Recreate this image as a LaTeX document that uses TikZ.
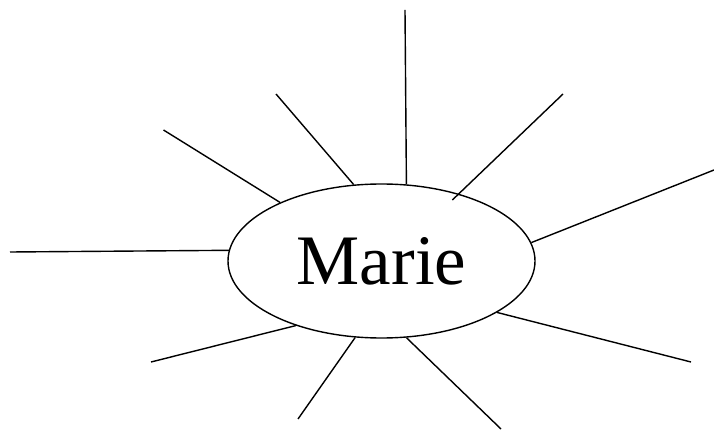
\documentclass[tikz,border=0pt]{standalone}
\usepackage{fontspec}
\setmainfont{Liberation Serif}
\usetikzlibrary{shapes.geometric,calc}
\tikzset{
  hub/.style={ellipse,draw,line width=1.4pt,minimum width=307pt,minimum height=154pt,inner sep=0pt,font=\fontsize{71}{80}\selectfont},
  ray/.style={line width=1.4pt}
}
\begin{document}
\begin{tikzpicture}[x=1pt,y=1pt]
\useasboundingbox (0,0) rectangle (714,431);
\node[hub] (m) at (381.5,170) {Marie};
\coordinate (o1) at (405,421);
\coordinate (o2) at (276,337);
\coordinate (o3) at (163.5,301);
\coordinate (o4) at (10,179);
\coordinate (o5) at (151,69);
\coordinate (o6) at (298,12);
\coordinate (o7) at (501,2);
\coordinate (o8) at (691,69);
\coordinate (o9) at (714,261);
\coordinate (o10) at (563,337);
\draw[ray] (o1) -- (m.72.8);
\draw[ray] (o2) -- (m.110.6);
\draw[ray] (o3) -- (m.150.5);
\draw[ray] (o4) -- (m.176.6);
\draw[ray] (o5) -- (m.217);
\draw[ray] (o6) -- (m.251);
\draw[ray] (o7) -- (m.288);
\draw[ray] (o8) -- (m.336);
\draw[ray] (o9) -- (m.7.5);
\draw[ray] (o10) -- ($(m.41)!-9pt!(o10)$);
\end{tikzpicture}
\end{document}
